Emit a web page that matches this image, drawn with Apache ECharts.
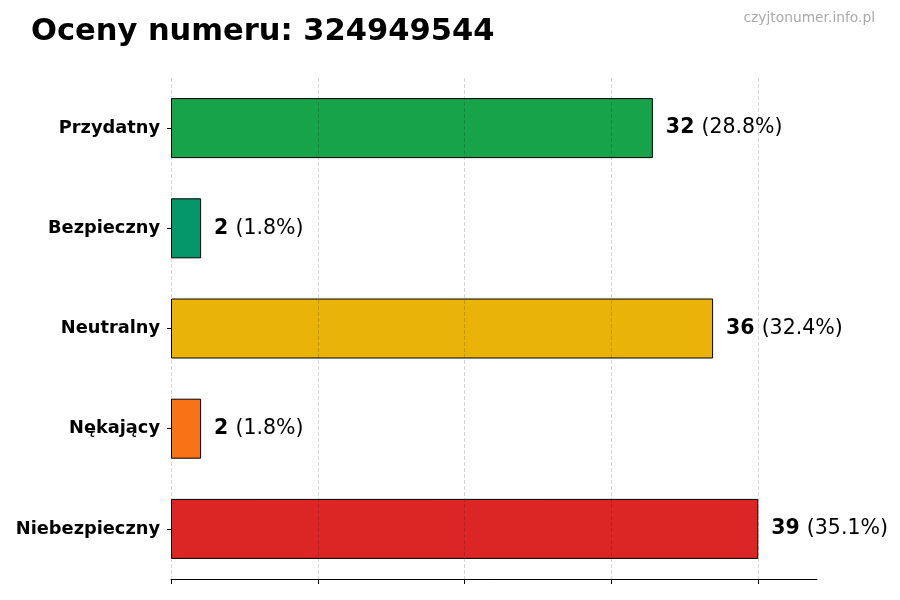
<!DOCTYPE html>
<html>
<head>
<meta charset="utf-8">
<script src="https://cdn.jsdelivr.net/npm/echarts@6/dist/echarts.min.js"></script>
<style>
html,body{margin:0;padding:0;background:#fff;}
#chart{width:900px;height:600px;}
</style>
</head>
<body>
<div id="chart"></div>
<script>
const categories = ['Przydatny', 'Bezpieczny', 'Neutralny', 'Nękający', 'Niebezpieczny'];
const counts = [32, 2, 36, 2, 39];
const percents = ['28.8', '1.8', '32.4', '1.8', '35.1'];
const colors = ['#16a34a', '#059669', '#eab308', '#f97316', '#dc2626'];
const gridTicks = [0, 9.75, 19.5, 29.25, 39];
const axisMax = 42.9;

const font = 'DejaVu Sans';
const chart = echarts.init(document.getElementById('chart'), null, {renderer: 'canvas'});

chart.setOption({
  animation: false,
  backgroundColor: '#ffffff',
  title: [
    {
      text: 'Oceny numeru: 324949544',
      left: 26, top: 12,
      textStyle: {fontFamily: font, fontWeight: 'bold', fontSize: 30.5, color: '#000'}
    },
    {
      text: 'czyjtonumer.info.pl',
      right: 20, top: 6,
      textStyle: {fontFamily: font, fontWeight: 'normal', fontSize: 13.8, color: '#aaaaaa'}
    }
  ],
  grid: {left: 171, right: 83, top: 78, bottom: 21, containLabel: false},
  xAxis: {
    type: 'value',
    min: 0,
    max: axisMax,
    axisLine: {show: true, lineStyle: {color: '#000', width: 1}},
    axisTick: {show: true, customValues: gridTicks, length: 5, lineStyle: {color: '#000'}},
    axisLabel: {show: false},
    splitLine: {show: false}
  },
  yAxis: {
    type: 'category',
    data: categories,
    inverse: true,
    axisLine: {show: false},
    axisTick: {show: true, alignWithLabel: true, length: 4, lineStyle: {color: '#000'}},
    axisLabel: {fontFamily: font, fontWeight: 'bold', fontSize: 17.8, color: '#000', margin: 11},
    splitLine: {show: false}
  },
  series: [{
    type: 'bar',
    barWidth: 60,
    data: counts.map((v, i) => ({
      value: v,
      itemStyle: {color: colors[i], borderColor: '#000', borderWidth: 1}
    })),
    label: {
      show: true,
      position: 'right',
      distance: 13,
      formatter: p => '{b|' + counts[p.dataIndex] + '}{s| }{n|(' + percents[p.dataIndex] + '%)}',
      rich: {
        b: {fontFamily: font, fontWeight: 'bold', fontSize: 20.5, color: '#000'},
        s: {fontFamily: font, fontWeight: 'normal', fontSize: 20.5, color: '#000', width: 7},
        n: {fontFamily: font, fontWeight: 'normal', fontSize: 20.5, color: '#000'}
      }
    },
    markLine: {
      silent: true,
      symbol: ['none', 'none'],
      label: {show: false},
      lineStyle: {type: 'dashed', color: 'rgba(0,0,0,0.16)', width: 1},
      data: gridTicks.map(v => ({xAxis: v}))
    }
  }]
});
</script>
</body>
</html>
